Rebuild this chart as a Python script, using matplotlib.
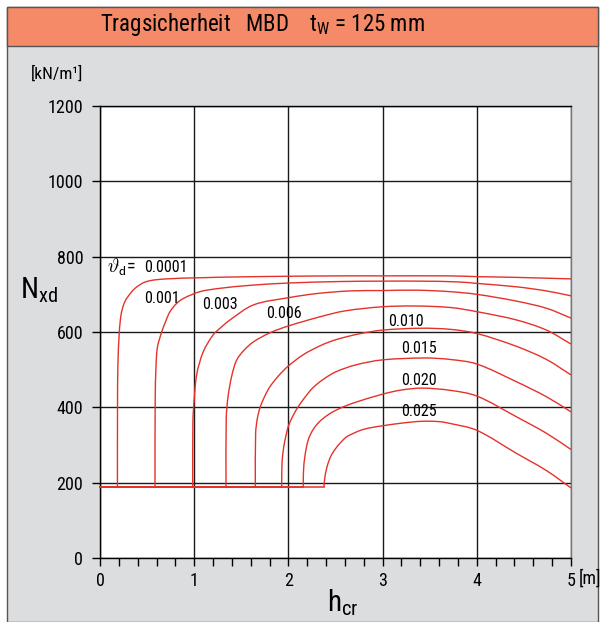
import matplotlib
matplotlib.use('Agg')
import numpy as np
import matplotlib.pyplot as plt
from matplotlib import font_manager as fm
from matplotlib.patches import Rectangle, PathPatch
from matplotlib.path import Path
from matplotlib.ticker import MultipleLocator


def pick(names):
    for n in names:
        try:
            fm.findfont(fm.FontProperties(family=n), fallback_to_default=False)
            return n
        except Exception:
            pass
    return 'DejaVu Sans'


MAIN = pick(['Nimbus Sans Narrow', 'Roboto Condensed', 'Archivo Narrow', 'Liberation Sans Narrow', 'Liberation Sans'])
plt.rcParams['font.family'] = [MAIN, 'DejaVu Sans']
plt.rcParams['mathtext.fontset'] = 'custom'
plt.rcParams['mathtext.rm'] = MAIN
plt.rcParams['mathtext.it'] = MAIN
plt.rcParams['mathtext.sf'] = MAIN

# ---------------- data ----------------
theta_labels = ['0.0001', '0.001', '0.003', '0.006', '0.010', '0.015', '0.020', '0.025']

x_0001 = [0, 0.185, 0.186, 0.19, 0.205, 0.223, 0.25, 0.283, 0.372, 0.495, 0.708, 1.06, 1.4, 2.0, 2.55, 3.0, 3.7, 4.0, 4.42, 5.0]
y_0001 = [188, 188, 400, 512, 600, 645, 672, 689, 716, 734, 741, 744, 746, 748, 749, 749, 749, 747, 745, 741]

x_001 = [0, 0.584, 0.586, 0.595, 0.61, 0.655, 0.70, 0.743, 0.81, 0.885, 1.06, 1.274, 1.6, 2.0, 2.55, 3.0, 3.4, 3.8, 4.0, 4.42, 4.74, 5.0]
y_001 = [188, 188, 420, 512, 560, 600, 630, 654, 675, 689, 707, 716, 724, 730, 734, 735, 735, 733, 729, 720, 709, 696]

x_003 = [0, 0.984, 0.986, 0.994, 1.026, 1.097, 1.2, 1.274, 1.38, 1.63, 2.0, 2.3, 2.65, 3.0, 3.36, 3.72, 4.0, 4.42, 4.74, 5.0]
y_003 = [188, 188, 360, 400, 486, 548, 592, 610, 632, 672, 691, 702, 709, 710, 711, 707, 700, 682, 663, 637]

x_006 = [0, 1.338, 1.34, 1.36, 1.40, 1.45, 1.53, 1.63, 1.805, 2.0, 2.33, 2.6, 3.0, 3.36, 3.72, 4.0, 4.42, 4.74, 5.0]
y_006 = [188, 188, 370, 430, 485, 525, 552, 574, 598, 616, 640, 656, 667, 669, 665, 654, 632, 605, 568]

x_010 = [0, 1.649, 1.652, 1.67, 1.70, 1.75, 1.805, 1.9, 2.0, 2.16, 2.35, 2.51, 2.75, 3.0, 3.4, 3.72, 4.0, 4.42, 4.74, 5.0]
y_010 = [188, 188, 330, 370, 400, 430, 455, 485, 510, 540, 565, 580, 595, 605, 610, 607, 596, 562, 527, 486]

x_015 = [0, 1.929, 1.932, 1.945, 1.964, 2.0, 2.05, 2.105, 2.18, 2.26, 2.38, 2.51, 2.72, 3.0, 3.45, 3.72, 4.0, 4.42, 4.74, 5.0]
y_015 = [188, 188, 250, 285, 313, 350, 378, 402, 428, 452, 476, 495, 513, 526, 531, 527, 515, 468, 428, 388]

x_020 = [0, 2.158, 2.16, 2.175, 2.21, 2.26, 2.33, 2.42, 2.51, 2.62, 2.72, 3.0, 3.2, 3.42, 3.72, 4.0, 4.42, 4.74, 5.0]
y_020 = [188, 188, 229, 270, 313, 340, 362, 380, 393, 405, 414, 435, 446, 451, 445, 430, 375, 331, 288]

x_025 = [0, 2.378, 2.385, 2.41, 2.45, 2.50, 2.56, 2.62, 2.70, 2.79, 2.90, 3.0, 3.2, 3.42, 3.6, 3.72, 4.0, 4.42, 4.74, 5.0]
y_025 = [188, 188, 210, 242, 270, 290, 308, 322, 332, 341, 347, 351, 358, 363, 362, 357, 339, 278, 232, 186]

curves_x = [x_0001, x_001, x_003, x_006, x_010, x_015, x_020, x_025]
curves_y = [y_0001, y_001, y_003, y_006, y_010, y_015, y_020, y_025]

# annotation anchors (data coords)
label_x = [0.467, 0.658, 1.274, 1.953, 3.25, 3.387, 3.387, 3.387]
label_y = [772, 688, 672, 650, 629, 555, 470, 390]
label_ha = ['left', 'center', 'center', 'center', 'center', 'center', 'center', 'center']

x_ticks = [0, 1, 2, 3, 4, 5]
y_ticks = [0, 200, 400, 600, 800, 1000, 1200]
X_MAX, Y_MAX = 5, 1200

RED = '#E5322A'
GRID = '#1a1a1a'
BG = '#DCDDDF'
HEADER = '#F58A68'

W, H = 605, 622
fig = plt.figure(figsize=(W / 100, H / 100), dpi=100)
fig.patch.set_facecolor('white')


def fx(px):
    return px / W


def fy(py):
    return 1 - py / H


AX_L, AX_R, AX_T, AX_B = 100, 571, 106, 558

fig.add_artist(Rectangle((fx(7), 0), fx(598) - fx(7), fy(7), transform=fig.transFigure,
                         facecolor=BG, edgecolor='#555555', lw=1.0, zorder=0))
fig.add_artist(Rectangle((fx(7), fy(46)), fx(598) - fx(7), fy(7) - fy(46), transform=fig.transFigure,
                         facecolor=HEADER, edgecolor='#555555', lw=1.0, zorder=1))
fig.text(fx(100), fy(25), r'Tragsicherheit   MBD    t$_\mathrm{W}$ = 125 mm', fontsize=16.5,
         ha='left', va='center', color='black')

ax = fig.add_axes([fx(AX_L), fy(AX_B), fx(AX_R) - fx(AX_L), fy(AX_T) - fy(AX_B)])
ax.set_facecolor('white')
ax.set_xlim(0, X_MAX)
ax.set_ylim(0, Y_MAX)
ax.set_xticks(x_ticks)
ax.set_yticks(y_ticks)
ax.xaxis.set_minor_locator(MultipleLocator(0.2))
ax.set_xticklabels([str(v) for v in x_ticks])
ax.set_yticklabels([str(v) for v in y_ticks])
ax.grid(True, which='major', color=GRID, lw=1.0)
ax.set_axisbelow(True)
ax.tick_params(axis='both', which='major', direction='out', length=6, width=1.0,
               labelsize=13, pad=4, color='black')
ax.tick_params(axis='y', pad=6)
ax.tick_params(axis='x', which='minor', direction='out', length=6, width=1.0, color='black')
for s in ['left', 'bottom', 'top']:
    ax.spines[s].set_color('black')
    ax.spines[s].set_linewidth(1.0)
ax.spines['right'].set_color('#777777')
ax.spines['right'].set_linewidth(1.0)

# pixel scale per data unit, for a smooth curve through the read points
SX = (AX_R - AX_L) / X_MAX
SY = (AX_B - AX_T) / Y_MAX


def smooth_path(xs, ys):
    p = np.column_stack([np.asarray(xs, float) * SX, np.asarray(ys, float) * SY])
    n = len(p)
    tang = []
    for i in range(n):
        if i == 0:
            d = p[1] - p[0]
        elif i == n - 1:
            d = p[-1] - p[-2]
        else:
            d = p[i + 1] - p[i - 1]
        tang.append(d / np.hypot(*d))
    verts = [p[0]]
    codes = [Path.MOVETO]
    for i in range(n - 1):
        L = np.hypot(*(p[i + 1] - p[i]))
        verts += [p[i] + tang[i] * L / 3, p[i + 1] - tang[i + 1] * L / 3, p[i + 1]]
        codes += [Path.CURVE4] * 3
    v = np.array(verts)
    v[:, 0] /= SX
    v[:, 1] /= SY
    return Path(v, codes)


for xs, ys in zip(curves_x, curves_y):
    # straight base line, then the smooth rising curve
    ax.plot(xs[:2], ys[:2], color=RED, lw=1.1, zorder=3, clip_on=False)
    ax.add_patch(PathPatch(smooth_path(xs[1:], ys[1:]), facecolor='none', edgecolor=RED,
                           lw=1.0, zorder=3, clip_on=False))

for lab, lx, ly, ha in zip(theta_labels, label_x, label_y, label_ha):
    ax.text(lx, ly, lab, fontsize=11.5, ha=ha, va='center', zorder=4)

ax.text(0.07, 772, r'$\vartheta_\mathsf{d}$', fontsize=14, ha='left', va='center',
        math_fontfamily='cm', zorder=4)
ax.text(0.28, 772, '=', fontsize=13, ha='left', va='center', zorder=4)

fig.text(fx(20), fy(290), r'N$_\mathrm{xd}$', fontsize=21, ha='left', va='center')
fig.text(fx(327), fy(603), r'h$_\mathrm{cr}$', fontsize=21, ha='left', va='center')
fig.text(fx(57), fy(74), '[kN/m¹]', fontsize=12.5, ha='center', va='center')
fig.text(fx(579), fy(579), '[m]', fontsize=13, ha='left', va='center')

fig.savefig('out.png', dpi=100, facecolor=fig.get_facecolor())
